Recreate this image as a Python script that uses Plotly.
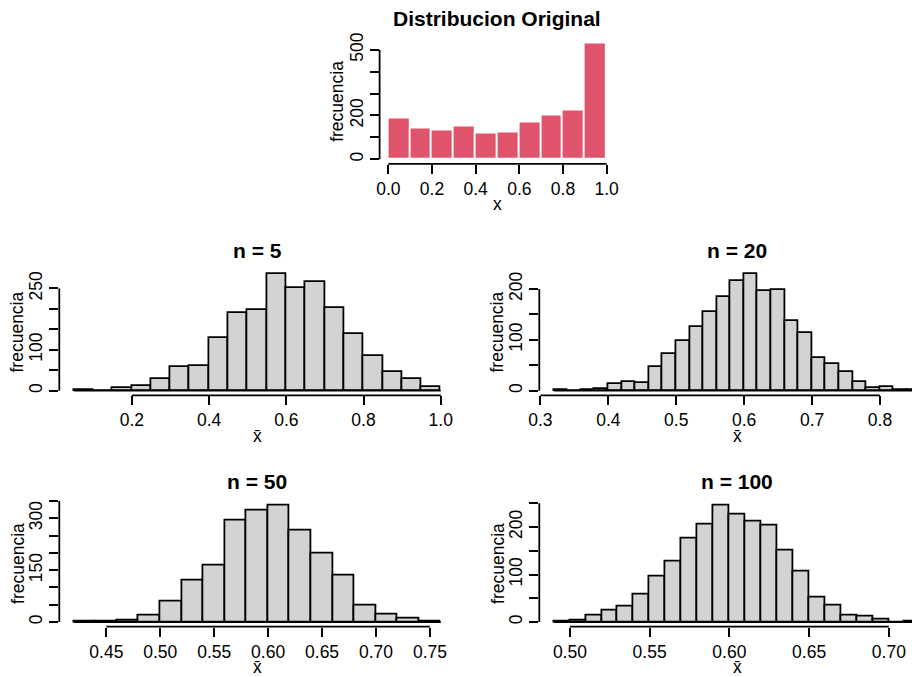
import numpy as np
import plotly.graph_objects as go

# ---- data: histogram counts (bin start, bin width, counts) ----
orig_start, orig_width = 0.0, 0.1
orig_counts = [184, 139, 133, 149, 119, 122, 166, 201, 224, 530]

n5_start, n5_width = 0.05, 0.05
n5_counts = [1, 0, 6, 11, 28, 57, 61, 129, 191, 198, 286, 250, 265, 202, 139, 85, 46, 29, 8]

n20_start, n20_width = 0.32, 0.02
n20_counts = [1, 0, 2, 3, 14, 18, 16, 46, 72, 98, 125, 154, 184, 215, 230, 195, 197,
              138, 114, 65, 53, 36, 17, 5, 7, 1, 1]

n50_start, n50_width = 0.42, 0.02
n50_counts = [1, 2, 4, 18, 58, 119, 163, 294, 322, 338, 264, 199, 134, 49, 21, 11, 1]

n100_start, n100_width = 0.49, 0.01
n100_counts = [1, 3, 13, 25, 33, 57, 95, 128, 175, 206, 246, 227, 212, 203, 151, 106,
               52, 35, 14, 12, 6, 0, 1]

# ---- tick values and labels ----
orig_xticks = [0.0, 0.2, 0.4, 0.6, 0.8, 1.0]
orig_xlabels = ["0.0", "0.2", "0.4", "0.6", "0.8", "1.0"]
orig_yticks = [0, 100, 200, 300, 400, 500]
orig_ylabels = ["0", "", "200", "", "", "500"]

n5_xticks = [0.2, 0.4, 0.6, 0.8, 1.0]
n5_xlabels = ["0.2", "0.4", "0.6", "0.8", "1.0"]
n5_yticks = [0, 50, 100, 150, 200, 250]
n5_ylabels = ["0", "", "100", "", "", "250"]

n20_xticks = [0.3, 0.4, 0.5, 0.6, 0.7, 0.8]
n20_xlabels = ["0.3", "0.4", "0.5", "0.6", "0.7", "0.8"]
n20_yticks = [0, 50, 100, 150, 200]
n20_ylabels = ["0", "", "100", "", "200"]

n50_xticks = [0.45, 0.50, 0.55, 0.60, 0.65, 0.70, 0.75]
n50_xlabels = ["0.45", "0.50", "0.55", "0.60", "0.65", "0.70", "0.75"]
n50_yticks = [0, 50, 100, 150, 200, 250, 300, 350]
n50_ylabels = ["0", "", "", "150", "", "", "300", ""]

n100_xticks = [0.50, 0.55, 0.60, 0.65, 0.70]
n100_xlabels = ["0.50", "0.55", "0.60", "0.65", "0.70"]
n100_yticks = [0, 50, 100, 150, 200, 250]
n100_ylabels = ["0", "", "100", "", "200", ""]

W, H = 912, 677
FONT = "Liberation Sans, Arial, Helvetica, sans-serif"
TICK_SIZE = 17.5
TITLE_SIZE = 21
LINE_W = 1.8
PINK = "#DF536B"
GRAY = "#D3D3D3"

# plot-region boxes in pixels: (left, top, width, height)
boxes = {
    "orig": (379.6, 38.6, 235.8, 125.3),
    "n5": (59.3, 269.0, 396.1, 126.4),
    "n20": (539.3, 269.0, 396.1, 126.4),
    "n50": (59.3, 500.5, 396.1, 126.2),
    "n100": (539.3, 500.5, 396.1, 126.2),
}

panels = [
    dict(key="orig", title="Distribucion Original", xlab="x", start=orig_start,
         width=orig_width, counts=orig_counts, xt=orig_xticks, xl=orig_xlabels,
         yt=orig_yticks, yl=orig_ylabels, fill=PINK, edge="white", ew=1.8, tgap=20.5),
    dict(key="n5", title="n = 5", xlab="x\u0304", start=n5_start, width=n5_width,
         counts=n5_counts, xt=n5_xticks, xl=n5_xlabels, yt=n5_yticks, yl=n5_ylabels,
         fill=GRAY, edge="black", ew=LINE_W, tgap=18.5),
    dict(key="n20", title="n = 20", xlab="x\u0304", start=n20_start, width=n20_width,
         counts=n20_counts, xt=n20_xticks, xl=n20_xlabels, yt=n20_yticks, yl=n20_ylabels,
         fill=GRAY, edge="black", ew=LINE_W, tgap=18.5),
    dict(key="n50", title="n = 50", xlab="x\u0304", start=n50_start, width=n50_width,
         counts=n50_counts, xt=n50_xticks, xl=n50_xlabels, yt=n50_yticks, yl=n50_ylabels,
         fill=GRAY, edge="black", ew=LINE_W, tgap=18.5),
    dict(key="n100", title="n = 100", xlab="x\u0304", start=n100_start, width=n100_width,
         counts=n100_counts, xt=n100_xticks, xl=n100_xlabels, yt=n100_yticks,
         yl=n100_ylabels, fill=GRAY, edge="black", ew=LINE_W, tgap=18.5),
]

fig = go.Figure()
shapes = []
annotations = []
layout = dict(
    width=W, height=H, margin=dict(l=0, r=0, t=0, b=0, autoexpand=False),
    paper_bgcolor="white", plot_bgcolor="white", showlegend=False,
    font=dict(family=FONT, size=TICK_SIZE, color="black"),
    bargap=0,
)


def text_note(txt, x, y, size, angle=0, bold=False):
    return dict(text=f"<b>{txt}</b>" if bold else txt, xref="paper", yref="paper",
                x=x / W, y=1 - y / H, xanchor="center", yanchor="middle",
                textangle=angle, showarrow=False,
                font=dict(family=FONT, size=size, color="black"))


for i, p in enumerate(panels, start=1):
    xa = "x" if i == 1 else f"x{i}"
    ya = "y" if i == 1 else f"y{i}"
    counts = np.array(p["counts"], dtype=float)
    edges = p["start"] + p["width"] * np.arange(len(counts) + 1)
    centers = (edges[:-1] + edges[1:]) / 2

    fig.add_trace(go.Bar(
        x=centers, y=counts, width=p["width"], xaxis=xa, yaxis=ya,
        marker=dict(color=p["fill"], line=dict(color=p["edge"], width=p["ew"])),
        hoverinfo="x+y",
    ))
    # baseline under the bins (zero-count bins show as a flat line)
    if p["key"] != "orig":
        shapes.append(dict(type="line", xref=xa, yref=ya, x0=edges[0], x1=edges[-1],
                           y0=0, y1=0, line=dict(color="black", width=p["ew"])))

    # R-style 4% padding on both axes
    xlo, xhi = edges[0], edges[-1]
    pad = 0.04 * (xhi - xlo)
    xr = [xlo - pad, xhi + pad]
    ymax = counts.max()
    yr = [-0.04 * ymax, 1.04 * ymax]

    left, top, bw, bh = boxes[p["key"]]
    x0f = left / W
    x1f = (left + bw) / W
    if x1f > 1.0:
        # region runs past the right edge: keep scale, cut range at the edge
        frac = (1.0 - x0f) / (x1f - x0f)
        xr = [xr[0], xr[0] + frac * (xr[1] - xr[0])]
        x1f = 1.0
    y1f = 1 - top / H
    y0f = 1 - (top + bh) / H

    axis_common = dict(showgrid=False, zeroline=False, showline=False, ticks="outside",
                       ticklen=9, tickwidth=LINE_W, tickcolor="black", automargin=False,
                       tickfont=dict(family=FONT, size=TICK_SIZE, color="black"))
    layout["xaxis" if i == 1 else f"xaxis{i}"] = dict(
        domain=[x0f, x1f], range=xr, anchor=ya, tickmode="array",
        tickvals=p["xt"], ticktext=p["xl"], tickangle=0, **axis_common)
    layout["yaxis" if i == 1 else f"yaxis{i}"] = dict(
        domain=[y0f, y1f], range=yr, anchor=xa, tickmode="array",
        tickvals=p["yt"], ticktext=p["yl"], tickangle=-90, **axis_common)

    # axis lines spanning first to last tick, as in base R graphics
    shapes.append(dict(type="line", xref=xa, yref=f"{ya} domain", x0=p["xt"][0],
                       x1=p["xt"][-1], y0=0, y1=0, line=dict(color="black", width=LINE_W)))
    shapes.append(dict(type="line", xref=f"{xa} domain", yref=ya, x0=0, x1=0,
                       y0=p["yt"][0], y1=p["yt"][-1], line=dict(color="black", width=LINE_W)))

    # panel title, x label and y label
    cx = left + bw / 2
    cy = top + bh / 2
    annotations.append(text_note(p["title"], cx, top - p["tgap"], TITLE_SIZE, bold=True))
    annotations.append(text_note(p["xlab"], cx, top + bh + 40.5, TICK_SIZE))
    annotations.append(text_note("frecuencia", left - 42, cy, TICK_SIZE, angle=-90))

layout["shapes"] = shapes
layout["annotations"] = annotations
fig.update_layout(**layout)
fig.write_html("out.html")
